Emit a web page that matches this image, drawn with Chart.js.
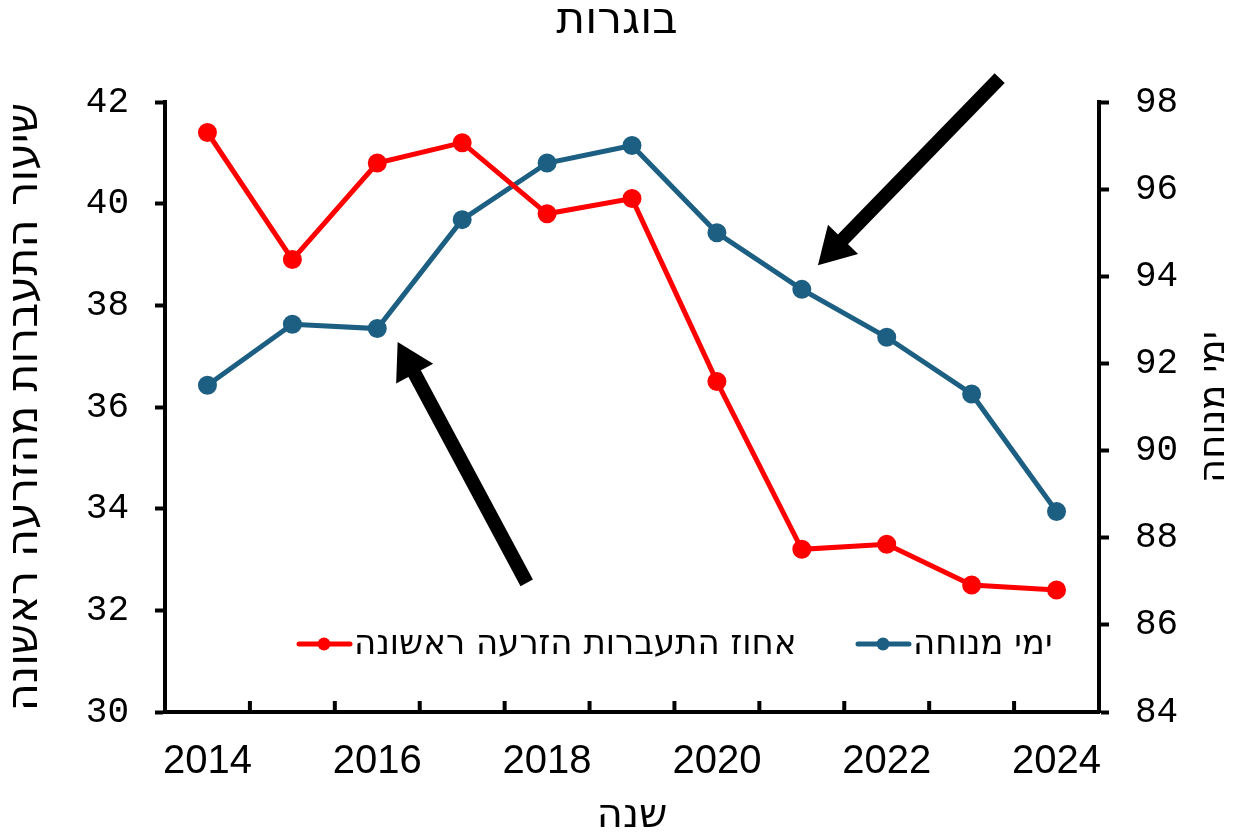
<!DOCTYPE html>
<html>
<head>
<meta charset="utf-8">
<script src="https://cdn.jsdelivr.net/npm/chart.js@4.4.1/dist/chart.umd.min.js"></script>
<style>
  html, body { margin: 0; padding: 0; background: #fff; }
  #wrap { width: 1234px; height: 837px; }
</style>
</head>
<body>
<div id="wrap"><canvas id="grafico"></canvas></div>
<script>
// datos
const anios = ["2014", "2015", "2016", "2017", "2018", "2019", "2020", "2021", "2022", "2023", "2024"];
const ahuzHitabrut = [41.4, 38.9, 40.8, 41.2, 39.8, 40.1, 36.5, 33.2, 33.3, 32.5, 32.4];
const yemeiMenucha = [91.5, 92.9, 92.8, 95.3, 96.6, 97.0, 95.0, 93.7, 92.6, 91.3, 88.6];
const ticksIzq = [30, 32, 34, 36, 38, 40, 42];
const ticksDer = [84, 86, 88, 90, 92, 94, 96, 98];

const titulo = "בוגרות";
const tituloX = "שנה";
const tituloIzq = "שיעור התעברות מהזרעה ראשונה";
const tituloDer = "ימי מנוחה";
const nombreRojo = "אחוז התעברות הזרעה ראשונה";
const nombreAzul = "ימי מנוחה";

// flechas: [x indice, y eje izq] desde -> hasta
const flechas = [
    { desde: [9.33, 42.47], hasta: [7.19, 38.79] },
    { desde: [3.76, 32.54], hasta: [2.24, 37.28] }
];

const ROJO = "#ff0000";
const AZUL = "#1c5f82";
const fuenteHeb = "'DejaVu Sans', sans-serif";

// marcas del eje x hacia adentro + titulo derecho + leyenda + flechas
const extras = {
    id: "extras",
    afterDatasetsDraw(chart) {
        const ctx = chart.ctx;
        const sx = chart.scales.x;
        const sy = chart.scales.y;
        ctx.save();
        ctx.fillStyle = "#000";
        ctx.strokeStyle = "#000";
        flechas.forEach(f => {
            const x0 = sx.getPixelForValue(f.desde[0]);
            const y0 = sy.getPixelForValue(f.desde[1]);
            const x1 = sx.getPixelForValue(f.hasta[0]);
            const y1 = sy.getPixelForValue(f.hasta[1]);
            const ang = Math.atan2(y1 - y0, x1 - x0);
            const largoPunta = 36;
            const anchoPunta = 21;
            const bx = x1 - Math.cos(ang) * largoPunta;
            const by = y1 - Math.sin(ang) * largoPunta;
            ctx.lineWidth = 14;
            ctx.beginPath();
            ctx.moveTo(x0, y0);
            ctx.lineTo(bx + Math.cos(ang) * 4, by + Math.sin(ang) * 4);
            ctx.stroke();
            ctx.beginPath();
            ctx.moveTo(x1, y1);
            ctx.lineTo(bx - Math.sin(ang) * anchoPunta, by + Math.cos(ang) * anchoPunta);
            ctx.lineTo(bx + Math.sin(ang) * anchoPunta, by - Math.cos(ang) * anchoPunta);
            ctx.closePath();
            ctx.fill();
        });
        ctx.restore();
    },
    afterDraw(chart) {
        const ctx = chart.ctx;
        const area = chart.chartArea;
        const sx = chart.scales.x;
        const sy1 = chart.scales.y1;
        ctx.save();

        // marcas del eje x (entre categorias, hacia arriba)
        ctx.strokeStyle = "#000";
        ctx.lineWidth = 4;
        for (let i = 1; i < anios.length; i++) {
            const px = (sx.getPixelForValue(i - 1) + sx.getPixelForValue(i)) / 2;
            ctx.beginPath();
            ctx.moveTo(px, area.bottom);
            ctx.lineTo(px, area.bottom - 11);
            ctx.stroke();
        }

        // titulo eje derecho (girado como el izquierdo)
        ctx.fillStyle = "#000";
        ctx.font = "37px " + fuenteHeb;
        ctx.textAlign = "center";
        ctx.textBaseline = "middle";
        ctx.direction = "rtl";
        ctx.translate(sy1.right - 20, (area.top + area.bottom) / 2);
        ctx.rotate(-Math.PI / 2);
        ctx.fillText(tituloDer, 0, 0);
        ctx.restore();

        // leyenda
        ctx.save();
        ctx.font = "34px " + fuenteHeb;
        ctx.textBaseline = "middle";
        ctx.direction = "rtl";
        ctx.textAlign = "right";
        const yLey = 644;
        const items = [
            { ds: chart.data.datasets[0], x: 297 },
            { ds: chart.data.datasets[1], x: 856 }
        ];
        items.forEach(it => {
            ctx.strokeStyle = it.ds.borderColor;
            ctx.fillStyle = it.ds.borderColor;
            ctx.lineWidth = 5;
            ctx.lineCap = "round";
            ctx.beginPath();
            ctx.moveTo(it.x + 2, yLey);
            ctx.lineTo(it.x + 53, yLey);
            ctx.stroke();
            ctx.beginPath();
            ctx.arc(it.x + 27, yLey, 6.5, 0, Math.PI * 2);
            ctx.fill();
            ctx.fillStyle = "#000";
            const ancho = ctx.measureText(it.ds.label).width;
            ctx.fillText(it.ds.label, it.x + 57 + ancho, yLey + 1);
        });
        ctx.restore();
    }
};

const ctx = document.getElementById("grafico");

new Chart(ctx, {
    type: "line",
    data: {
        labels: anios,
        datasets: [
            {
                label: nombreRojo,
                data: ahuzHitabrut,
                borderColor: ROJO,
                backgroundColor: ROJO,
                borderWidth: 5,
                pointRadius: 7,
                pointHoverRadius: 7,
                yAxisID: "y"
            },
            {
                label: nombreAzul,
                data: yemeiMenucha,
                borderColor: AZUL,
                backgroundColor: AZUL,
                borderWidth: 5,
                pointRadius: 7,
                pointHoverRadius: 7,
                yAxisID: "y1"
            }
        ]
    },
    options: {
        responsive: true,
        maintainAspectRatio: false,
        animation: false,
        layout: { padding: 0 },
        plugins: {
            legend: { display: false },
            tooltip: { enabled: false },
            title: {
                display: true,
                text: titulo,
                color: "#000",
                font: { family: fuenteHeb, size: 44, weight: "normal", lineHeight: 1 },
                padding: { top: 0, bottom: 58 }
            }
        },
        scales: {
            x: {
                offset: true,
                grid: { display: true, drawOnChartArea: false, drawTicks: false, offset: true },
                border: { color: "#000", width: 4 },
                ticks: {
                    color: "#000",
                    font: { family: "'Liberation Sans', Arial, sans-serif", size: 40 },
                    padding: 26,
                    autoSkip: false,
                    maxRotation: 0,
                    callback: function (val, i) {
                        return i % 2 === 0 ? anios[i] : "";
                    }
                },
                title: {
                    display: true,
                    text: tituloX,
                    color: "#000",
                    font: { family: fuenteHeb, size: 40, lineHeight: 1 },
                    padding: { top: 0, bottom: 0 }
                },
                afterFit: s => { s.height = 125; }
            },
            y: {
                position: "left",
                min: 30,
                max: 42,
                afterBuildTicks: s => { s.ticks = ticksIzq.map(v => ({ value: v })); },
                grid: { drawOnChartArea: false, tickLength: 10, tickWidth: 4, tickColor: "#000" },
                border: { color: "#000", width: 4 },
                ticks: {
                    color: "#000",
                    font: { family: "'Liberation Mono', 'Courier New', monospace", size: 36 },
                    padding: 26
                },
                title: {
                    display: true,
                    text: tituloIzq,
                    color: "#000",
                    font: { family: fuenteHeb, size: 43, lineHeight: 1 },
                    padding: { top: 4, bottom: 0 }
                },
                afterFit: s => { s.width = 165; }
            },
            y1: {
                position: "right",
                min: 84,
                max: 98,
                afterBuildTicks: s => { s.ticks = ticksDer.map(v => ({ value: v })); },
                grid: { drawOnChartArea: false, tickLength: 10, tickWidth: 4, tickColor: "#000" },
                border: { color: "#000", width: 4 },
                ticks: {
                    color: "#000",
                    font: { family: "'Liberation Mono', 'Courier New', monospace", size: 36 },
                    padding: 26
                },
                afterFit: s => { s.width = 135; }
            }
        }
    },
    plugins: [extras]
});
</script>
</body>
</html>
